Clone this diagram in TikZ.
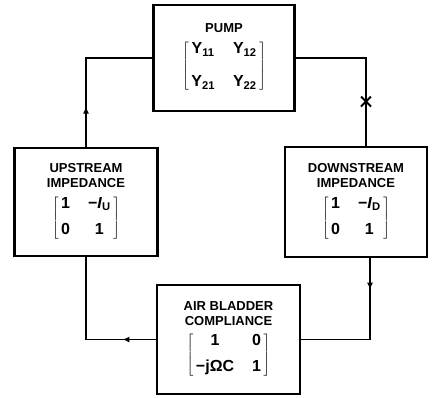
\documentclass[tikz,border=0pt]{standalone}
\usepackage{fontspec}
\setmainfont{Liberation Sans}
\usetikzlibrary{arrows.meta,decorations.markings}

\newcommand{\blockmat}[5][7pt]{{\fontsize{16}{19}\selectfont
  $\left[\begin{tabular}{@{\,}c@{\hspace{18pt}}c@{\,}}#2 & #3\\[#1] #4 & #5\end{tabular}\right]$}}

\tikzset{
  block/.style={draw, line width=2.2pt, minimum width=142pt, minimum height=108pt,
    align=center, inner sep=0pt, font=\fontsize{13}{15}\selectfont\bfseries},
  flow/.style={line width=1.6pt, postaction={decorate},
    decoration={markings, mark=at position #1 with {\arrow{Latex[length=7pt,width=6pt]}}}},
  crossed/.style={line width=1.6pt, postaction={decorate},
    decoration={markings, mark=at position #1 with {\draw[line width=2pt] (-5pt,-5pt)--(5pt,5pt) (-5pt,5pt)--(5pt,-5pt);}}}
}

\begin{document}
\begin{tikzpicture}[x=1pt,y=-1pt]
  \useasboundingbox (0,0) rectangle (434,397);
  % blocks
  \node[block, minimum width=141pt, minimum height=106pt] (pump) at (224,58)
    {PUMP\\[7pt]\blockmat[14pt]{Y\textsubscript{11}}{Y\textsubscript{12}}{Y\textsubscript{21}}{Y\textsubscript{22}}};
  \node[block, minimum width=143pt, minimum height=108pt] (upstream) at (86,202)
    {UPSTREAM\\IMPEDANCE\\[6pt]\blockmat{1}{−\textit{I}\textsubscript{U}}{0}{1}};
  \node[block, minimum width=142pt, minimum height=110pt] (downstream) at (356,202)
    {DOWNSTREAM\\IMPEDANCE\\[6pt]\blockmat{1}{−\textit{I}\textsubscript{D}}{0}{1}};
  \node[block, minimum width=143pt, minimum height=109pt] (bladder) at (228.5,339.5)
    {AIR BLADDER\\COMPLIANCE\\[6pt]\blockmat{1}{0}{−jΩC}{1}};
  % loop
  \draw[flow=0.26] (upstream.north) |- (pump.west);
  \draw[crossed=0.72] (pump.east) -| ([xshift=10pt]downstream.north);
  \draw[flow=0.21] ([xshift=14pt]downstream.south) |- (bladder.east);
  \draw[flow=0.22] (bladder.west) -| (upstream.south);
\end{tikzpicture}
\end{document}
